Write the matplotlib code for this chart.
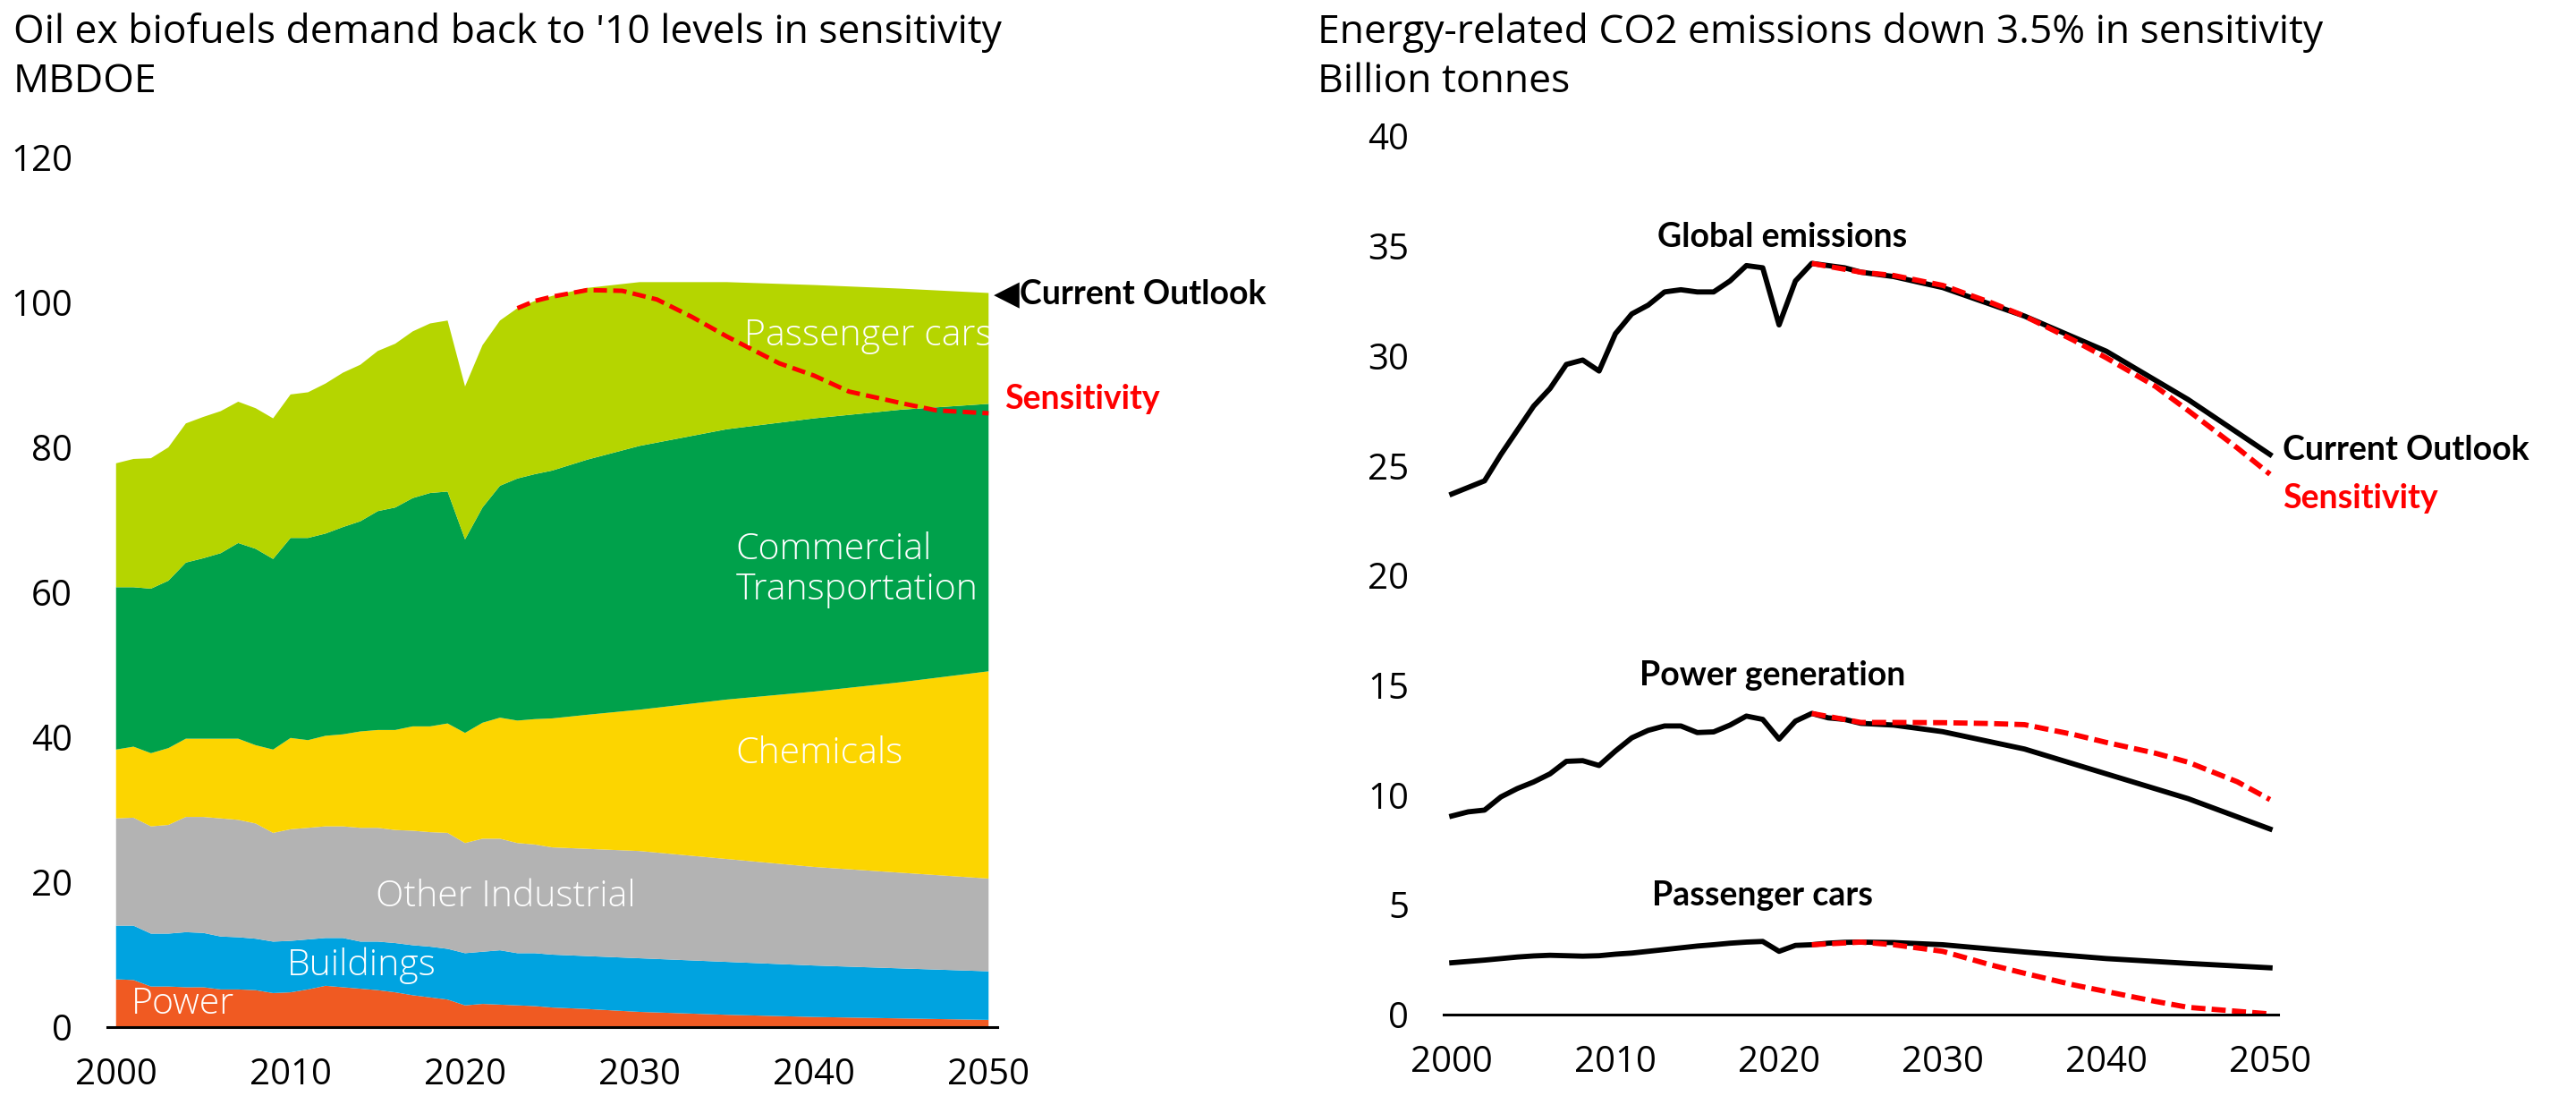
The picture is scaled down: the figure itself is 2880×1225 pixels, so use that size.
import matplotlib
matplotlib.use('Agg')
import matplotlib.pyplot as plt

plt.rcParams['font.family'] = ['Open Sans', 'DejaVu Sans']

# ---------------- left chart: oil ex biofuels demand by sector (MBDOE)
years = [2000, 2001, 2002, 2003, 2004, 2005, 2006, 2007, 2008, 2009,
         2010, 2011, 2012, 2013, 2014, 2015, 2016, 2017, 2018, 2019,
         2020, 2021, 2022, 2023, 2024, 2025, 2027, 2030, 2035, 2040,
         2045, 2050]

power = [6.6, 6.5, 5.6, 5.6, 5.5, 5.5, 5.2, 5.2, 5.1, 4.7,
         4.8, 5.2, 5.7, 5.5, 5.3, 5.1, 4.8, 4.4, 4.1, 3.8,
         3.0, 3.2, 3.1, 3.0, 2.9, 2.7, 2.5, 2.1, 1.7, 1.4,
         1.2, 1.0]
buildings = [7.4, 7.5, 7.3, 7.3, 7.6, 7.5, 7.3, 7.2, 7.1, 7.1,
             7.1, 6.9, 6.6, 6.8, 6.5, 6.7, 6.8, 6.9, 7.0, 7.0,
             7.2, 7.2, 7.5, 7.2, 7.3, 7.3, 7.3, 7.4, 7.3, 7.1,
             6.9, 6.7]
other_industrial = [14.8, 14.9, 14.8, 15.0, 15.9, 16.0, 16.3, 16.2, 15.9, 15.0,
                    15.4, 15.4, 15.4, 15.4, 15.7, 15.7, 15.6, 15.8, 15.8, 16.0,
                    15.2, 15.6, 15.4, 15.2, 15.0, 14.8, 14.8, 14.8, 14.2, 13.6,
                    13.2, 12.8]
chemicals = [9.5, 9.8, 10.1, 10.6, 10.8, 10.8, 11.0, 11.2, 10.8, 11.5,
             12.6, 12.1, 12.5, 12.7, 13.3, 13.5, 13.8, 14.4, 14.6, 15.1,
             15.2, 16.0, 16.7, 16.9, 17.3, 17.8, 18.5, 19.5, 22.0, 24.2,
             26.3, 28.6]
commercial = [22.4, 22.0, 22.7, 23.1, 24.3, 24.9, 25.6, 27.0, 27.1, 26.3,
              27.6, 27.9, 27.9, 28.6, 29.0, 30.2, 30.7, 31.5, 32.2, 32.0,
              26.7, 29.7, 32.0, 33.4, 33.8, 34.2, 35.2, 36.4, 37.3, 37.7,
              37.6, 36.9]
passenger = [17.1, 17.7, 18.0, 18.4, 19.2, 19.5, 19.6, 19.5, 19.4, 19.4,
             19.8, 20.1, 20.7, 21.3, 21.6, 22.1, 22.6, 23.0, 23.4, 23.6,
             21.1, 22.4, 22.8, 23.5, 23.9, 24.1, 23.7, 22.6, 20.3, 18.4,
             16.7, 15.3]

sector_colors = ['#F05A22', '#00A3E0', '#B3B3B3', '#FCD500', '#00A14B', '#B5D500']

# total demand in the sensitivity case
sens_years = [2023, 2024, 2025, 2027, 2029, 2031, 2033, 2035, 2038, 2040,
              2042, 2045, 2047, 2050]
sens_total = [99.2, 100.2, 100.8, 101.7, 101.6, 100.4, 98.0, 95.3, 91.6, 89.9,
              87.7, 86.1, 85.1, 84.7]

left_yticks = [0, 20, 40, 60, 80, 100, 120]
xticks = [2000, 2010, 2020, 2030, 2040, 2050]

# ---------------- right chart: energy-related CO2 emissions (billion tonnes)
co2_years = [2000, 2001, 2002, 2003, 2004, 2005, 2006, 2007, 2008, 2009,
             2010, 2011, 2012, 2013, 2014, 2015, 2016, 2017, 2018, 2019,
             2020, 2021, 2022, 2023, 2024, 2025, 2027, 2030, 2035, 2040,
             2045, 2050]
global_co2 = [23.7, 24.0, 24.3, 25.5, 26.6, 27.7, 28.5, 29.6, 29.8, 29.3,
              31.0, 31.9, 32.3, 32.9, 33.0, 32.9, 32.9, 33.4, 34.1, 34.0,
              31.4, 33.4, 34.2, 34.1, 34.0, 33.8, 33.6, 33.1, 31.8, 30.2,
              28.0, 25.5]
power_co2 = [9.04, 9.23, 9.31, 9.91, 10.29, 10.59, 10.96, 11.53, 11.56, 11.34,
             12.0, 12.6, 12.94, 13.14, 13.14, 12.84, 12.87, 13.18, 13.59, 13.44,
             12.54, 13.36, 13.71, 13.51, 13.44, 13.26, 13.18, 12.88, 12.09, 10.96,
             9.83, 8.45]
cars_co2 = [2.36, 2.42, 2.48, 2.55, 2.62, 2.67, 2.70, 2.68, 2.66, 2.68,
            2.75, 2.80, 2.88, 2.96, 3.04, 3.12, 3.18, 3.25, 3.30, 3.33,
            2.88, 3.15, 3.18, 3.25, 3.29, 3.30, 3.28, 3.18, 2.85, 2.55,
            2.33, 2.13]

co2_sens_years = [2022, 2025, 2027, 2030, 2033, 2035, 2038, 2040, 2043, 2045,
                  2048, 2050]
global_co2_sens = [34.2, 33.8, 33.65, 33.2, 32.4, 31.8, 30.7, 29.9, 28.6, 27.5,
                   25.8, 24.6]
power_co2_sens = [13.71, 13.3, 13.3, 13.29, 13.25, 13.2, 12.75, 12.39, 11.9, 11.49,
                  10.6, 9.79]
cars_co2_sens = [3.18, 3.30, 3.18, 2.88, 2.25, 1.88, 1.35, 1.05, 0.6, 0.33,
                 0.15, 0.03]

right_yticks = [0, 5, 10, 15, 20, 25, 30, 35, 40]

W, H = 2880, 1225
fig = plt.figure(figsize=(W / 100, H / 100), dpi=100)


def px_axes(x0, x1, y_top, y_bottom):
    """axes from pixel edges"""
    return fig.add_axes([x0 / W, 1 - y_bottom / H, (x1 - x0) / W, (y_bottom - y_top) / H])


def clean(ax):
    for s in ['top', 'right', 'left']:
        ax.spines[s].set_visible(False)
    ax.spines['bottom'].set_linewidth(2.2)
    ax.tick_params(axis='both', length=0, labelsize=29)
    ax.tick_params(axis='y', pad=28)
    ax.tick_params(axis='x', pad=24)


bold = ['Lato', 'DejaVu Sans']

# ---- left
ax1 = px_axes(120, 1115, 176, 1148)
ax1.stackplot(years, power, buildings, other_industrial, chemicals, commercial,
              passenger, colors=sector_colors, linewidth=0, antialiased=True)
ax1.plot(sens_years, sens_total, color='#FF0000', lw=3.6, dashes=(3.0, 1.4))
ax1.set_xlim(1999.5, 2050.5)
ax1.set_ylim(0, 120)
ax1.set_yticks(left_yticks)
ax1.set_xticks(xticks)
clean(ax1)

lab = dict(color='white', fontsize=29.5, fontweight='light', va='center', ha='left')
ax1.text(2036.0, 95.4, 'Passenger cars', **lab)
ax1.text(2035.5, 63.1, 'Commercial\nTransportation', linespacing=1.15, **lab)
ax1.text(2035.5, 37.7, 'Chemicals', **lab)
ax1.text(2014.9, 18.0, 'Other Industrial', **lab)
ax1.text(2009.8, 8.5, 'Buildings', **lab)
ax1.text(2000.9, 3.1, 'Power', **lab)

ax1.text(2050.3, 101.2, '\u25C0Current Outlook', fontsize=27, fontweight='bold',
         color='black', va='center', ha='left', clip_on=False, family=bold)
ax1.text(2050.9, 86.7, 'Sensitivity', fontsize=27, fontweight='bold',
         color='#FF0000', va='center', ha='left', clip_on=False, family=bold)

# ---- right
ax2 = px_axes(1614, 2547, 152, 1134)
for vals, sens in [(global_co2, global_co2_sens), (power_co2, power_co2_sens),
                   (cars_co2, cars_co2_sens)]:
    ax2.plot(co2_years, vals, color='black', lw=4.2, solid_joinstyle='round')
    ax2.plot(co2_sens_years, sens, color='#FF0000', lw=4.2, dashes=(2.7, 1.2))
ax2.set_xlim(1999.5, 2050.5)
ax2.set_ylim(0, 40)
ax2.set_yticks(right_yticks)
ax2.set_xticks(xticks)
clean(ax2)

blab = dict(fontsize=27, fontweight='bold', va='center', family=bold)
ax2.text(2020.2, 35.4, 'Global emissions', ha='center', **blab)
ax2.text(2019.6, 15.45, 'Power generation', ha='center', **blab)
ax2.text(2019.0, 5.43, 'Passenger cars', ha='center', **blab)
ax2.text(2050.8, 25.7, 'Current Outlook', ha='left', color='black', clip_on=False, **blab)
ax2.text(2050.8, 23.5, 'Sensitivity', ha='left', color='#FF0000', clip_on=False, **blab)

# ---- titles
tkw = dict(fontsize=32, va='baseline')
fig.text(15 / W, 1 - 48 / H, "Oil ex biofuels demand back to '10 levels in sensitivity", **tkw)
fig.text(15 / W, 1 - 103 / H, 'MBDOE', **tkw)
fig.text(1473 / W, 1 - 48 / H, 'Energy-related CO2 emissions down 3.5% in sensitivity', **tkw)
fig.text(1473 / W, 1 - 103 / H, 'Billion tonnes', **tkw)

fig.savefig('out.png', dpi=100)
